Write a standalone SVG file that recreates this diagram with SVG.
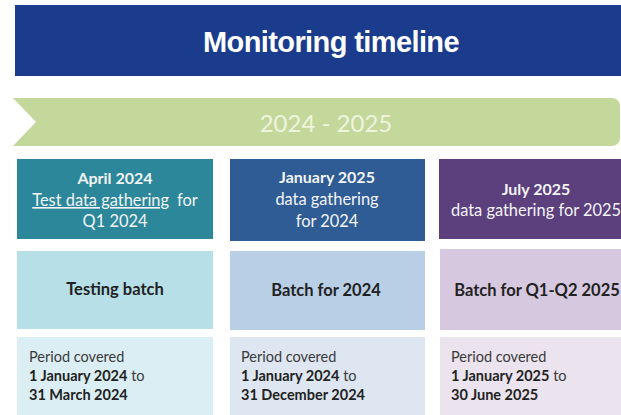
<svg xmlns="http://www.w3.org/2000/svg" width="621" height="415" viewBox="0 0 621 415">
<style>
.t{font-family:Lato,"Open Sans","Liberation Sans",sans-serif;}
.hdr{font-size:16.4px;fill:#f2f4f6;text-anchor:middle;}
.b{font-weight:bold;}
.mid{font-size:16.5px;font-weight:bold;fill:#222;text-anchor:middle;}
.per{font-size:14.5px;fill:#3a3a3a;}
.per .b{fill:#222;}
</style>
<rect width="621" height="415" fill="#ffffff"/>
<g id="title">
<rect x="15" y="5" width="620" height="71" fill="#1b3c8c"/>
<text x="331" y="52" font-family="'Liberation Sans',Arial,sans-serif" font-weight="bold" font-size="29" letter-spacing="-0.6" fill="#ffffff" text-anchor="middle">Monitoring timeline</text>
</g>
<g id="banner">
<path d="M13,98 H612 A8,8 0 0 1 620,106 V138 A8,8 0 0 1 612,146 H13 L36,122 Z" fill="#c4d89c"/>
<text class="t" x="326" y="132" font-size="24" fill="#eef4de" text-anchor="middle">2024 - 2025</text>
</g>
<g id="col1">
<rect x="17" y="159" width="196" height="80" fill="#2b8799"/>
<text class="t hdr" x="115" y="184"><tspan class="b" font-size="16">April 2024</tspan><tspan x="115" dy="22"><tspan text-decoration="underline">Test data gathering</tspan><tspan dx="8">for</tspan></tspan><tspan x="115" dy="21">Q1 2024</tspan></text>
<rect x="17" y="251" width="196" height="78" fill="#b6dfe8"/>
<text class="t mid" x="115" y="295">Testing batch</text>
<rect x="17" y="337" width="196" height="78" fill="#dbeef3"/>
<text class="t per" x="29" y="362">Period covered<tspan x="29" dy="19"><tspan class="b">1 January 2024</tspan> to</tspan><tspan x="29" dy="19" class="b">31 March 2024</tspan></text>
</g>
<g id="col2">
<rect x="230" y="159" width="195" height="82" fill="#2f5c94"/>
<text class="t hdr" x="327" y="183"><tspan class="b" font-size="16">January 2025</tspan><tspan x="327" dy="22">data gathering</tspan><tspan x="327" dy="22">for 2024</tspan></text>
<rect x="230" y="251" width="195" height="79" fill="#b8cfe6"/>
<text class="t mid" x="326" y="296">Batch for 2024</text>
<rect x="230" y="337" width="195" height="78" fill="#dde6f1"/>
<text class="t per" x="241" y="362">Period covered<tspan x="241" dy="19"><tspan class="b">1 January 2024</tspan> to</tspan><tspan x="241" dy="19" class="b">31 December 2024</tspan></text>
</g>
<g id="col3">
<rect x="439" y="159" width="195" height="80" fill="#5c3f7d"/>
<text class="t hdr" x="536" y="195" fill="#ebe6f0"><tspan class="b" font-size="16">July 2025</tspan><tspan x="536" dy="21">data gathering for 2025</tspan></text>
<rect x="440" y="249" width="195" height="81" fill="#d6c8df"/>
<text class="t mid" x="537" y="296">Batch for Q1-Q2 2025</text>
<rect x="440" y="337" width="195" height="78" fill="#ebe3ee"/>
<text class="t per" x="451" y="362">Period covered<tspan x="451" dy="19"><tspan class="b">1 January 2025</tspan> to</tspan><tspan x="451" dy="19" class="b">30 June 2025</tspan></text>
</g>
<g id="connectors"/>
</svg>
